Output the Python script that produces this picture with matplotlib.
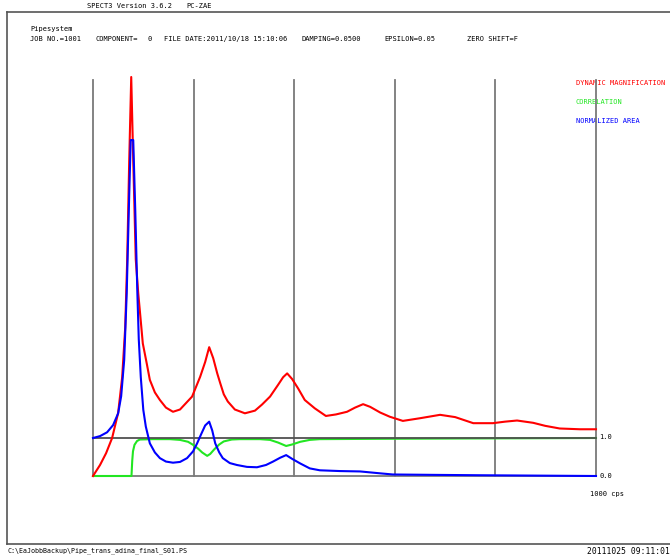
import matplotlib
matplotlib.use("Agg")
import matplotlib.pyplot as plt

# frequency axis 0..1000 cps
red_f = [0, 14, 26, 38, 50, 58, 64, 68, 72, 76, 80, 85, 90, 93, 99, 107, 113, 123, 133,
         145, 159, 173, 185, 197, 213, 223, 231, 239, 247, 253, 260, 268, 282, 302, 322,
         336, 352, 368, 378, 386, 396, 408, 421, 441, 463, 483, 505, 521, 537, 551, 571,
         590, 616, 650, 690, 720, 756, 795, 819, 843, 875, 899, 928, 968, 1000]
red_v = [0, 0.29, 0.6, 1.0, 1.66, 2.6, 3.9, 5.7, 8.3, 10.5, 8.3, 5.7, 4.8, 4.37, 3.49,
         2.95, 2.53, 2.2, 2.0, 1.8, 1.69, 1.75, 1.92, 2.09, 2.61, 3.0, 3.39, 3.1, 2.7, 2.44,
         2.15, 1.96, 1.75, 1.65, 1.72, 1.88, 2.09, 2.4, 2.6, 2.70, 2.55, 2.3, 2.0, 1.78,
         1.58, 1.62, 1.69, 1.80, 1.89, 1.82, 1.67, 1.56, 1.45, 1.52, 1.61, 1.55, 1.39,
         1.39, 1.43, 1.46, 1.40, 1.32, 1.25, 1.23, 1.23]

blue_f = [0, 14, 28, 40, 50, 56, 62, 67, 72, 75, 80, 84, 88, 91, 95, 100, 105, 113, 123,
          133, 145, 159, 173, 187, 199, 207, 215, 223, 231, 237, 243, 251, 258, 272, 286,
          306, 326, 344, 358, 372, 384, 396, 412, 431, 451, 491, 531, 571, 596, 676, 769,
          1000]
blue_v = [1.0, 1.05, 1.15, 1.34, 1.65, 2.1, 3.05, 4.8, 7.4, 8.84, 8.84, 7.0, 4.9, 3.6,
          2.6, 1.74, 1.3, 0.86, 0.62, 0.47, 0.38, 0.35, 0.37, 0.47, 0.65, 0.86, 1.1, 1.33,
          1.43, 1.2, 0.86, 0.62, 0.47, 0.34, 0.29, 0.24, 0.23, 0.29, 0.38, 0.48, 0.55, 0.45,
          0.33, 0.2, 0.15, 0.13, 0.12, 0.07, 0.04, 0.03, 0.02, 0.0]

green_f = [0, 76.5, 78, 79.5, 82.5, 87.5, 93, 119, 153, 173, 189, 199, 209, 217, 227, 233,
           241, 251, 260, 276, 292, 332, 352, 368, 384, 396, 412, 431, 451, 590, 1000]
green_v = [0, 0, 0.4, 0.65, 0.82, 0.92, 0.96, 0.97, 0.97, 0.95, 0.9, 0.82, 0.72, 0.62,
           0.53, 0.58, 0.7, 0.83, 0.91, 0.96, 0.97, 0.97, 0.95, 0.88, 0.79, 0.83, 0.9,
           0.95, 0.97, 0.98, 1.0]

grid_f = [0, 200, 400, 600, 800, 1000]

W, H = 670, 557
fig = plt.figure(figsize=(6.7, 5.57), dpi=100)

# page frame and texts in pixel coords
page = fig.add_axes([0, 0, 1, 1])
page.set_xlim(0, W)
page.set_ylim(H, 0)
page.axis("off")
page.plot([7, W], [12, 12], color="#555555", lw=1.2)
page.plot([7, 7], [12, 544], color="#555555", lw=1.2)
page.plot([7, W], [544, 544], color="#555555", lw=1.2)

mono = "DejaVu Sans Mono"
fs = 5.0
page.text(87, 6, "SPECT3 Version 3.6.2", fontsize=fs, family=mono, va="center")
page.text(186, 6, "PC-ZAE", fontsize=fs, family=mono, va="center")
page.text(30, 29, "Pipesystem", fontsize=fs, family=mono, va="center")
page.text(30, 39, "JOB NO.=1001", fontsize=fs, family=mono, va="center")
page.text(96, 39, "COMPONENT=", fontsize=fs, family=mono, va="center")
page.text(148, 39, "0", fontsize=fs, family=mono, va="center")
page.text(164, 39, "FILE DATE:2011/10/18 15:10:06", fontsize=fs, family=mono, va="center")
page.text(302, 39, "DAMPING=0.0500", fontsize=fs, family=mono, va="center")
page.text(384, 39, "EPSILON=0.05", fontsize=fs, family=mono, va="center")
page.text(467, 39, "ZERO SHIFT=F", fontsize=fs, family=mono, va="center")

page.text(576, 83, "DYNAMIC MAGNIFICATION", fontsize=fs, family=mono, va="center", color="red")
page.text(576, 102, "CORRELATION", fontsize=fs, family=mono, va="center", color="#22e622")
page.text(576, 121, "NORMALIZED AREA", fontsize=fs, family=mono, va="center", color="blue")

page.text(599, 437, "1.0", fontsize=fs, family=mono, va="center")
page.text(599, 476, "0.0", fontsize=fs, family=mono, va="center")
page.text(590, 494, "1000 cps", fontsize=fs, family=mono, va="center")

page.text(7, 551, r"C:\EaJobbBackup\Pipe_trans_adina_final_S01.PS", fontsize=4.8,
          family=mono, va="center")
page.text(W, 551, "20111025 09:11:01", fontsize=5.8, family=mono, va="center", ha="right")

# data axes
x0, x1, y0, y1 = 93, 596, 476, 80
ax = fig.add_axes([x0 / W, (H - y0) / H, (x1 - x0) / W, (y0 - y1) / H])
ax.set_xlim(0, 1000)
ax.set_ylim(0, (y0 - y1) / 38)
ax.axis("off")

for f in grid_f:
    ax.axvline(f, color="#7a7a7a", lw=1.3, zorder=1, clip_on=False)
ax.axhline(0, color="#7a7a7a", lw=1.3, zorder=1, clip_on=False)
ax.plot(green_f, green_v, color="#22e622", lw=1.5, zorder=2, clip_on=False)
ax.axhline(1, color="#505050", lw=1.3, zorder=3, clip_on=False)
ax.plot(red_f, red_v, color="red", lw=1.5, zorder=4, clip_on=False)
ax.plot(blue_f, blue_v, color="blue", lw=1.5, zorder=5, clip_on=False)

fig.savefig("out.png", dpi=100)
